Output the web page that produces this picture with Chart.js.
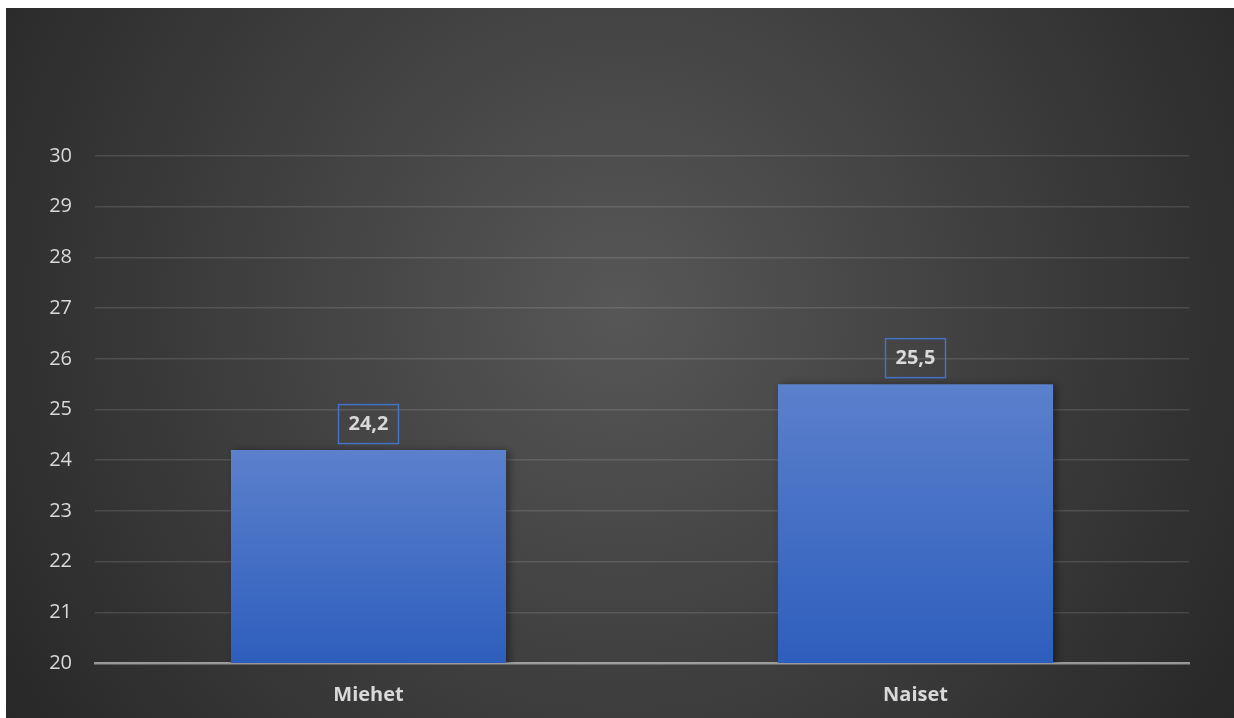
<!DOCTYPE html>
<html>
<head>
<meta charset="utf-8">
<script src="https://cdn.jsdelivr.net/npm/chart.js@4"></script>
<style>
  html, body { margin: 0; padding: 0; background: #ffffff; }
  #wrap { position: absolute; left: 6px; top: 8px; width: 1228px; height: 710px; }
</style>
</head>
<body>
<div id="wrap"><canvas id="chart"></canvas></div>
<script>
// data
const categories = ["Miehet", "Naiset"];
const values = [24.2, 25.5];
const yMin = 20;
const yMax = 30;

const labelColor = "#d9d9d9";

// dark radial backdrop like the Excel style
const backdrop = {
  id: "backdrop",
  beforeDraw(chart) {
    const { ctx, width, height } = chart;
    const g = ctx.createRadialGradient(width * 0.5, height * 0.42, 0, width * 0.5, height * 0.42, width * 0.62);
    g.addColorStop(0, "#575757");
    g.addColorStop(1, "#262626");
    ctx.save();
    ctx.fillStyle = g;
    ctx.fillRect(0, 0, width, height);
    ctx.restore();
  }
};

// soft shadow on the bars
const barShadow = {
  id: "barShadow",
  beforeDatasetDraw(chart) {
    const ctx = chart.ctx;
    ctx.save();
    ctx.shadowColor = "rgba(0,0,0,0.45)";
    ctx.shadowBlur = 8;
    ctx.shadowOffsetX = 3;
    ctx.shadowOffsetY = 1;
  },
  afterDatasetDraw(chart) {
    chart.ctx.restore();
  }
};

// boxed value labels above the bars
const valueLabels = {
  id: "valueLabels",
  afterDatasetsDraw(chart) {
    const { ctx } = chart;
    const meta = chart.getDatasetMeta(0);
    ctx.save();
    ctx.font = "bold 20px 'Open Sans'";
    ctx.textAlign = "center";
    ctx.textBaseline = "middle";
    meta.data.forEach((bar, i) => {
      const text = values[i].toFixed(1).replace(".", ",");
      const w = ctx.measureText(text).width + 20;
      const h = 39;
      const bottom = bar.y - 7;
      ctx.strokeStyle = "#4472c4";
      ctx.lineWidth = 1.5;
      ctx.strokeRect(Math.round(bar.x - w / 2) + 0.5, bottom - h + 0.5, Math.round(w), h);
      ctx.fillStyle = labelColor;
      ctx.fillText(text, bar.x, bottom - h / 2 + 1);
    });
    ctx.restore();
  }
};

new Chart(document.getElementById("chart"), {
  type: "bar",
  data: {
    labels: categories,
    datasets: [{
      data: values,
      backgroundColor(context) {
        const chart = context.chart;
        const area = chart.chartArea;
        if (!area) return "#4472c4";
        const yScale = chart.scales.y;
        const top = yScale.getPixelForValue(values[context.dataIndex]);
        const g = chart.ctx.createLinearGradient(0, top, 0, area.bottom);
        g.addColorStop(0, "#5b80cc");
        g.addColorStop(1, "#2e5ebd");
        return g;
      },
      borderWidth: 0,
      barPercentage: 0.503,
      categoryPercentage: 1
    }]
  },
  options: {
    responsive: true,
    maintainAspectRatio: false,
    animation: false,
    layout: { padding: { top: 148, right: 45, left: 0, bottom: 0 } },
    plugins: {
      legend: { display: false },
      tooltip: { enabled: false }
    },
    scales: {
      x: {
        z: 1,
        grid: { display: false, drawTicks: false },
        border: { display: true, color: "rgba(200,200,200,0.65)", width: 2.5 },
        ticks: {
          color: labelColor,
          font: { family: "'Open Sans'", size: 20, weight: "bold" },
          padding: 20
        },
        afterFit(scale) { scale.height = 55; }
      },
      y: {
        min: yMin,
        max: yMax,
        grid: { color: "rgba(255,255,255,0.12)", lineWidth: 1.5, drawTicks: false },
        border: { display: false },
        ticks: {
          stepSize: 1,
          color: labelColor,
          font: { family: "'Open Sans'", size: 20 },
          padding: 23
        },
        afterFit(scale) { scale.width = 89; }
      }
    }
  },
  plugins: [backdrop, barShadow, valueLabels]
});
</script>
</body>
</html>
